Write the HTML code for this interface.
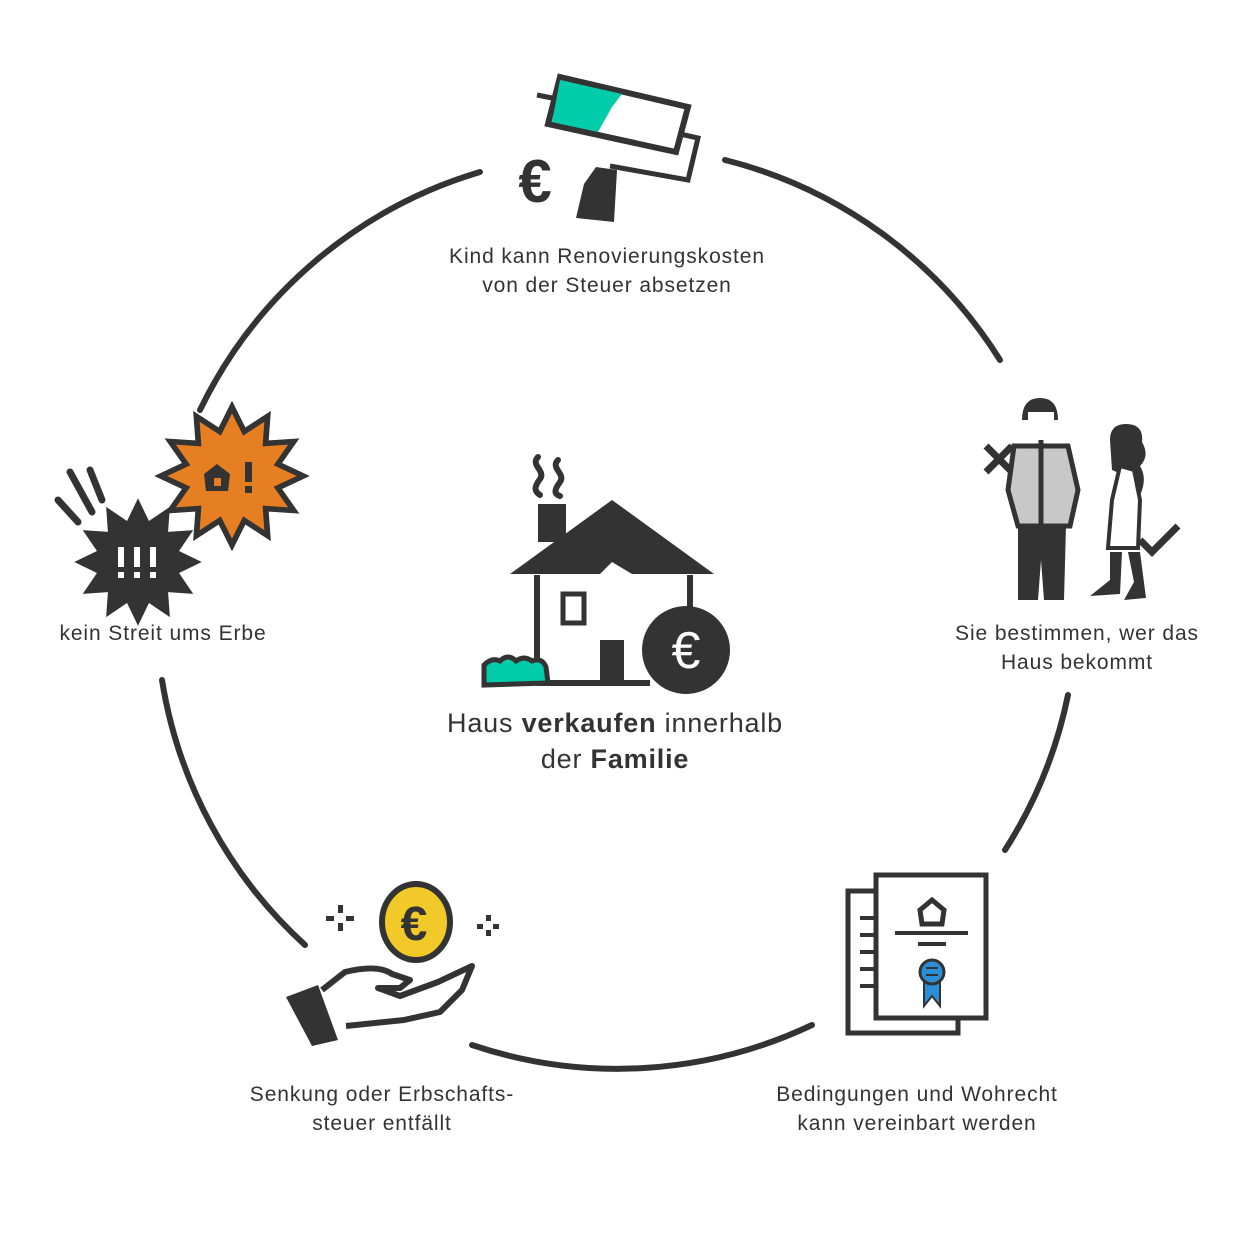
<!DOCTYPE html>
<html><head><meta charset="utf-8"><style>
html,body{margin:0;padding:0;background:#fff}
svg{display:block}
text{font-family:"Liberation Sans",sans-serif;fill:#333}
.l{font-size:21px;letter-spacing:0.9px}
</style></head><body>
<svg width="1250" height="1250" viewBox="0 0 1250 1250" xmlns="http://www.w3.org/2000/svg">
<g fill="none" stroke="#333" stroke-width="6" stroke-linecap="round">
<path d="M200 410 A455 455 0 0 1 480 172"/>
<path d="M725 160 A455 455 0 0 1 1000 360"/>
<path d="M1068 695 A455 455 0 0 1 1005 850"/>
<path d="M812 1025 A455 455 0 0 1 472 1045"/>
<path d="M305 945 A455 455 0 0 1 162 680"/>
</g>

<!-- center house -->
<g>
<path d="M538 457c-8 8 8 14 2 22s-6 12 0 16" fill="none" stroke="#333" stroke-width="6" stroke-linecap="round"/>
<path d="M558 460c-8 8 8 14 2 22s-6 12 0 14" fill="none" stroke="#333" stroke-width="6" stroke-linecap="round"/>
<rect x="538" y="504" width="28" height="38" fill="#333"/>
<path d="M510 574 L612 500 L714 574 L632 574 L612 562 L600 574 Z" fill="#333"/>
<path d="M537 575 V665 M690 575 V610" stroke="#333" stroke-width="6"/>
<path d="M537 683 H650" stroke="#333" stroke-width="6"/>
<rect x="563" y="594" width="21" height="29" fill="none" stroke="#333" stroke-width="5"/>
<rect x="600" y="640" width="24" height="42" fill="#333"/>
<path d="M484 665 q8-8 16-4 q8-8 16 0 q8-6 16 0 q10-4 14 6 l2 16 l-64 2 z" fill="#00ccaa" stroke="#333" stroke-width="5"/>
<circle cx="686" cy="650" r="44" fill="#333"/>
<text x="686" y="668" font-size="52" text-anchor="middle" style="fill:#fff">€</text>
</g>
<text x="615" y="732" font-size="27" letter-spacing="0.8" text-anchor="middle">Haus <tspan font-weight="bold">verkaufen</tspan> innerhalb</text>
<text x="615" y="768" font-size="27" letter-spacing="0.8" text-anchor="middle">der <tspan font-weight="bold">Familie</tspan></text>

<!-- top roller -->
<g>
<path d="M537 95 L552 98" stroke="#333" stroke-width="5"/>
<path d="M560 77 L688 107 L676 152 L548 124 Z" fill="#fff" stroke="#333" stroke-width="6"/>
<path d="M560 80 L622 94 L612 107 L598 132 L552 122 Z" fill="#00ccaa"/>
<path d="M680 134 L698 138 L688 180 L610 166" fill="none" stroke="#333" stroke-width="5"/>
<path d="M596 167 L617 170 L614 222 L576 218 L584 184 Z" fill="#333"/>
<text x="535" y="202" font-size="60" font-weight="bold" text-anchor="middle">€</text>
</g>
<text class="l" x="607" y="263" text-anchor="middle">Kind kann Renovierungskosten</text>
<text class="l" x="607" y="292" text-anchor="middle">von der Steuer absetzen</text>

<!-- bursts -->
<polygon points="305,477 278.3,489.9 295,514.5 265.4,512.4 267.5,541.9 242.9,525.3 230,552 217.1,525.3 192.5,541.9 194.6,512.4 165,514.5 181.7,489.9 155,477 181.7,464.1 165,439.5 194.6,441.6 192.5,412.1 217.1,428.7 230,402 242.9,428.7 267.5,412.1 265.4,441.6 295,439.5 278.3,464.1" transform="translate(232,476) scale(0.95,0.92) translate(-230,-477)" fill="#e67e22" stroke="#333" stroke-width="6" stroke-linejoin="miter"/>
<path d="M204 474 L217 464 L230 474 L228 491 L206 491 Z" fill="#333"/>
<rect x="214" y="478" width="7" height="8" fill="#e67e22"/>
<rect x="245" y="462" width="7" height="20" fill="#333"/><rect x="245" y="486" width="7" height="7" fill="#333"/>
<polygon transform="translate(138,562) scale(0.85) translate(-230,-477)" points="305,477 278.3,489.9 295,514.5 265.4,512.4 267.5,541.9 242.9,525.3 230,552 217.1,525.3 192.5,541.9 194.6,512.4 165,514.5 181.7,489.9 155,477 181.7,464.1 165,439.5 194.6,441.6 192.5,412.1 217.1,428.7 230,402 242.9,428.7 267.5,412.1 265.4,441.6 295,439.5 278.3,464.1" fill="#333"/>
<g fill="#fff"><rect x="118" y="547" width="6" height="20"/><rect x="118" y="572" width="6" height="6"/><rect x="134" y="547" width="6" height="20"/><rect x="134" y="572" width="6" height="6"/><rect x="150" y="547" width="6" height="20"/><rect x="150" y="572" width="6" height="6"/></g>
<g stroke="#333" stroke-width="7" stroke-linecap="round"><path d="M58 500 L78 522"/><path d="M70 472 L92 512"/><path d="M90 470 L102 500"/></g>
<text class="l" x="163" y="640" text-anchor="middle">kein Streit ums Erbe</text>

<!-- people -->
<g>
<path d="M986 446 L1012 472 M1012 446 L986 472" stroke="#333" stroke-width="7"/>
<path d="M1022 420 q0-22 18-22 q18 0 18 22 l-4 0 l0-8 l-26 0 l0 8 z" fill="#333"/>
<path d="M1014 446 L1068 446 L1078 490 L1070 526 L1018 526 L1008 490 Z" fill="#c8c8c8" stroke="#333" stroke-width="5"/>
<path d="M1041 440 V526" stroke="#333" stroke-width="5"/>
<path d="M1018 526 H1066 L1064 600 H1044 L1041 560 L1038 600 H1018 Z" fill="#333"/>
<path d="M1110 440 q0-16 16-16 q18 0 16 18 q8 14 -2 24 q10 16 -6 40 l-8-30 l-14-6 z" fill="#333"/>
<path d="M1120 466 L1134 470 L1140 500 L1138 548 L1108 548 L1112 500 Z" fill="#fff" stroke="#333" stroke-width="4"/>
<path d="M1110 552 L1122 552 L1120 594 L1090 596 L1110 580 Z M1128 552 L1140 552 L1146 598 L1124 600 L1134 582 Z" fill="#333"/>
<path d="M1140 540 L1152 552 L1178 526" fill="none" stroke="#333" stroke-width="7"/>
</g>
<text class="l" x="1077" y="640" text-anchor="middle">Sie bestimmen, wer das</text>
<text class="l" x="1077" y="669" text-anchor="middle">Haus bekommt</text>

<!-- document -->
<g>
<rect x="848" y="891" width="110" height="142" fill="#fff" stroke="#333" stroke-width="5"/>
<rect x="876" y="875" width="110" height="143" fill="#fff" stroke="#333" stroke-width="5"/>
<g stroke="#333" stroke-width="4"><path d="M860 918h16M860 935h16M860 952h16M860 969h16M860 986h16"/></g>
<path d="M920 910 L932 900 L944 910 L942 924 L922 924 Z" fill="none" stroke="#333" stroke-width="5"/>
<path d="M895 933 H968 M918 944 H946" stroke="#333" stroke-width="4"/>
<path d="M924 978 L924 1006 L932 996 L940 1006 L940 978 Z" fill="#2a8fd8" stroke="#333" stroke-width="2"/>
<circle cx="932" cy="972" r="12" fill="#2a8fd8" stroke="#333" stroke-width="3"/>
<path d="M926 968h12M926 975h12" stroke="#333" stroke-width="2"/>
</g>
<text class="l" x="917" y="1101" text-anchor="middle">Bedingungen und Wohrecht</text>
<text class="l" x="917" y="1130" text-anchor="middle">kann vereinbart werden</text>

<!-- hand & coin -->
<g>
<ellipse cx="416" cy="922" rx="34" ry="38" fill="#f1c928" stroke="#333" stroke-width="6"/>
<text x="414" y="940" font-size="48" font-weight="bold" text-anchor="middle">€</text>
<g fill="#333"><rect x="338" y="905" width="5" height="8"/><rect x="338" y="923" width="5" height="8"/><rect x="326" y="916" width="8" height="5"/><rect x="346" y="916" width="8" height="5"/>
<rect x="486" y="915" width="5" height="6"/><rect x="486" y="930" width="5" height="6"/><rect x="477" y="924" width="6" height="5"/><rect x="493" y="924" width="6" height="5"/></g>
<path d="M322 990 L345 972 Q378 964 392 974 L410 980 L400 988 L378 988 L400 996 L438 982 L472 966 L462 990 L440 1012 L404 1020 L346 1026" fill="#fff" stroke="#333" stroke-width="6" stroke-linejoin="round"/>
<path d="M286 997 L318 985 L338 1040 L312 1046 Z" fill="#333"/>
</g>
<text class="l" x="382" y="1101" text-anchor="middle">Senkung oder Erbschafts-</text>
<text class="l" x="382" y="1130" text-anchor="middle">steuer entfällt</text>
</svg>
</body></html>
